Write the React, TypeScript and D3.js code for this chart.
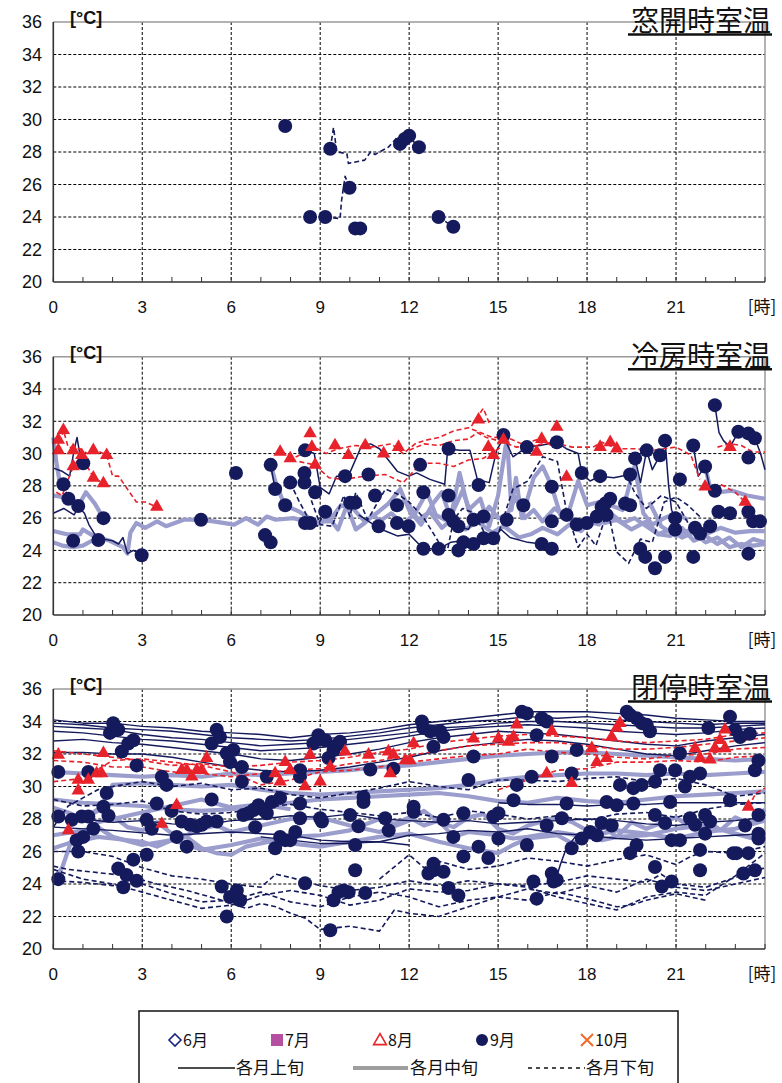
import React from 'react';
import * as d3 from 'd3';

type Flat = number[];

const hourTicks = [0, 3, 6, 9, 12, 15, 18, 21];
const minorHours = d3.range(0, 25);
const tempTicks = [20, 22, 24, 26, 28, 30, 32, 34, 36];

// ---------- Panel 1: 窓開時室温 ----------
const p1Late9: Flat[] = [
  [9.34, 28.2, 9.45, 29.5, 9.56, 28.0, 9.9, 27.9, 9.95, 27.3, 10.5, 27.5, 10.7, 28.0, 10.85, 27.85, 11.3, 28.3, 11.6, 28.9, 11.85, 28.8, 12.0, 29.0, 12.3, 28.3],
  [9.17, 24.0, 9.67, 23.9, 9.72, 25.0, 9.84, 26.5, 9.99, 25.8],
  [12.99, 24.0, 13.49, 23.4],
];
const p1Dots9: Flat = [7.82, 29.6, 8.66, 24.0, 9.17, 24.0, 9.34, 28.2, 9.99, 25.8, 10.18, 23.3, 10.35, 23.3, 11.69, 28.5, 11.85, 28.8, 12.0, 29.0, 12.33, 28.3, 12.99, 24.0, 13.49, 23.4];

// ---------- Panel 2: 冷房時室温 ----------
const p2Early9: Flat[] = [
  [0, 29.1, 0.3, 28.9, 0.55, 28.6, 0.7, 30.2, 0.8, 31.0, 0.9, 29.9, 1.0, 29.4],
  [0, 26.3, 0.35, 26.6, 0.7, 26.2, 0.85, 26.7, 1.05, 26.3, 1.2, 25.6, 1.4, 25.0, 1.7, 24.7, 2.0, 24.6, 2.2, 24.4, 2.35, 24.8, 2.5, 23.8, 2.7, 24.0, 3.0, 23.7],
  [8.5, 30.2, 8.8, 30.0, 9.0, 27.9, 9.3, 27.5, 9.55, 28.6, 9.95, 28.6, 10.4, 30.5, 10.7, 30.6, 11.0, 30.3, 11.3, 29.6, 11.6, 28.9, 12.0, 28.6, 12.25, 28.8, 12.7, 28.4, 13.2, 28.1, 13.3, 30.3, 13.7, 30.2, 14.05, 30.2, 14.3, 28.4, 14.7, 28.2, 14.95, 30.2, 15.2, 31.0],
  [15.2, 31.0, 15.5, 29.8, 15.97, 30.4, 16.4, 30.5, 16.98, 30.7, 17.3, 30.3, 17.7, 30.0, 17.82, 28.8, 18.1, 28.3, 18.44, 28.6, 18.9, 28.5, 19.45, 28.7],
  [10.3, 26.2, 10.8, 25.6, 11.2, 25.2, 11.6, 24.9, 12.0, 25.0, 12.48, 24.1, 12.99, 24.1, 13.4, 24.5, 13.8, 24.6, 14.2, 24.4, 14.5, 24.75, 14.84, 24.75, 15.1, 25.3, 15.4, 24.8, 16.0, 24.5, 16.47, 24.4, 16.81, 24.1],
  [22.31, 33.0, 22.45, 31.3, 22.6, 30.8, 22.82, 30.4, 23.1, 31.35, 23.44, 31.25, 23.66, 30.95, 23.85, 30.0, 24.0, 29.0],
  [21.58, 30.5, 21.75, 28.6, 21.98, 29.2, 22.15, 27.8, 22.31, 27.7],
  [20.63, 30.8, 20.75, 28.0, 20.85, 26.5, 20.97, 26.0],
  [19.62, 29.7, 19.8, 28.2, 20.01, 30.2, 20.2, 29.0, 20.46, 29.9],
  [13.33, 26.2, 13.49, 25.8, 13.66, 25.5, 14.0, 25.3, 14.17, 25.9, 14.51, 26.1],
  [7.33, 29.3, 7.48, 27.8],
];
const p2Mid9: Flat[] = [
  [0, 25.2, 0.45, 25.0, 0.9, 25.0, 1.0, 25.3, 1.35, 24.9, 1.9, 24.6, 2.35, 24.2, 2.5, 23.8, 2.6, 25.1, 2.8, 25.7, 3.1, 25.4, 3.5, 25.8, 3.8, 25.5, 4.4, 25.9, 4.9, 25.9, 5.4, 25.8, 6.1, 25.6, 6.5, 26.0, 6.9, 25.6, 7.2, 26.1, 7.5, 25.9, 8.1, 26.0, 8.5, 25.8, 8.9, 25.6, 9.3, 26.0, 9.6, 25.3, 9.9, 26.8, 10.2, 25.3, 10.5, 25.7, 10.8, 26.2, 11.0, 25.8, 11.4, 26.3, 11.8, 25.6, 12.2, 26.3, 12.6, 27.6, 12.9, 26.2, 13.2, 25.9, 13.5, 26.5, 13.8, 27.7, 14.1, 26.2, 14.4, 26.0, 14.7, 26.7, 15.0, 26.0, 15.3, 26.2, 15.6, 27.3, 15.9, 26.0, 16.2, 26.5, 16.5, 25.8, 16.9, 26.6, 17.2, 26.2, 17.6, 25.7, 18.0, 25.8, 18.4, 25.6, 18.8, 26.3, 19.2, 25.7, 19.6, 26.0, 20.0, 25.5, 20.4, 25.0, 20.8, 24.9, 21.2, 25.4, 21.6, 24.6, 22.0, 24.9, 22.4, 24.4, 22.8, 24.8, 23.2, 24.2, 23.6, 24.7, 24.0, 24.5],
  [0, 24.5, 0.3, 24.3, 0.67, 24.2, 1.0, 24.3, 1.3, 24.6, 1.52, 24.65],
  [0, 27.4, 0.34, 27.3, 0.6, 27.2, 0.84, 26.75, 1.1, 27.6, 1.4, 26.9, 1.69, 26.0],
  [0, 31.0, 0.1, 29.5, 0.2, 28.4, 0.34, 28.1],
  [7.33, 29.3, 7.5, 28.2, 7.8, 26.8, 8.3, 26.4, 8.8, 25.8, 9.3, 25.8, 9.7, 26.8, 10.1, 26.6, 10.5, 25.8, 10.9, 26.3, 11.3, 26.9, 11.7, 27.8, 12.0, 26.5, 12.4, 25.6, 12.8, 26.9, 13.1, 27.6, 13.4, 26.0, 13.7, 28.8, 14.0, 26.5, 14.4, 27.2, 14.7, 25.5, 15.0, 27.4, 15.3, 31.0, 15.45, 26.5, 15.6, 28.5, 15.8, 26.0, 16.2, 28.5, 16.5, 29.2, 16.8, 28.0, 17.1, 26.2, 17.4, 26.5, 17.7, 28.3, 18.0, 26.8, 18.4, 27.0, 18.8, 26.8, 19.2, 26.5, 19.6, 29.2, 19.9, 26.3, 20.2, 25.6, 20.6, 26.0, 21.0, 26.3, 21.4, 25.9],
  [12.0, 26.8, 12.3, 25.9, 12.7, 26.4, 13.1, 25.4, 13.5, 26.0, 13.9, 25.3, 14.3, 25.8, 14.8, 25.1, 15.2, 25.5, 15.7, 24.8, 16.1, 25.0, 16.5, 25.4, 17.0, 25.0, 17.4, 25.6, 17.8, 25.2, 18.2, 26.0, 18.6, 25.7, 19.0, 25.9, 19.5, 25.3, 20.0, 25.8, 20.4, 25.0, 20.8, 25.3, 21.2, 24.8, 21.6, 25.1, 22.0, 24.5, 22.4, 24.8, 22.8, 24.2, 23.2, 24.4, 23.6, 24.3, 24.0, 24.4],
  [20.1, 27.0, 20.5, 25.5, 21.0, 24.9, 21.5, 25.3, 22.0, 25.0, 22.5, 25.4, 23.0, 25.1, 23.5, 25.2, 24.0, 25.2],
  [21.98, 29.2, 22.15, 27.9, 22.4, 27.6, 22.9, 27.7, 23.4, 27.4, 24.0, 27.2],
];
const p2Late9: Flat[] = [
  [8.7, 27.1, 9.0, 25.6, 9.4, 25.5, 9.8, 27.4, 10.0, 26.1, 10.2, 27.6, 10.6, 25.9, 11.2, 27.8, 11.6, 27.5, 12.0, 27.0, 12.5, 26.0, 13.0, 24.5, 13.3, 24.1, 13.5, 25.9, 13.8, 26.6, 14.2, 26.3, 14.7, 24.5, 15.0, 25.0, 15.5, 27.8, 16.0, 28.3, 16.5, 29.8, 17.0, 29.5, 17.3, 26.5, 17.7, 24.2, 18.0, 25.0, 18.3, 24.3, 18.7, 26.5, 19.0, 23.9, 19.4, 23.2, 19.8, 24.7, 20.2, 24.5, 20.6, 27.0, 21.0, 27.3, 21.4, 26.8, 21.8, 26.1],
  [19.3, 28.8, 19.6, 27.6, 20.0, 26.6, 20.5, 27.4, 21.0, 27.0, 21.5, 25.4, 22.0, 24.6],
  [0.34, 28.1, 0.51, 27.2],
  [7.99, 28.2, 8.3, 27.0, 8.6, 26.0, 8.9, 25.5, 9.17, 26.4],
];
const p2Late8: Flat[] = [
  [0.17, 30.2, 0.34, 31.45, 0.5, 30.4, 0.9, 30.3, 1.15, 30.0, 1.45, 30.2, 1.8, 29.9, 2.0, 28.6, 2.2, 28.6, 2.8, 27.0, 3.1, 27.0, 3.49, 26.7],
  [0.1, 27.6, 0.3, 27.4, 0.67, 29.2, 0.96, 29.9, 1.35, 28.5, 1.69, 28.15],
  [7.65, 30.1, 8.2, 29.8, 8.8, 30.4, 9.2, 30.0, 9.6, 30.3, 10.2, 30.5, 10.7, 30.4, 11.4, 30.6, 11.8, 30.0, 12.2, 30.6, 12.5, 30.8, 13.0, 31.0, 13.5, 31.4, 14.0, 31.6, 14.4, 31.3, 14.8, 31.0, 15.3, 31.0, 15.8, 30.6, 16.4, 30.9, 17.0, 30.3],
  [8.3, 29.5, 8.8, 29.3, 9.3, 28.5, 9.8, 28.4, 10.5, 28.6, 11.2, 28.7, 11.8, 28.2, 12.4, 29.4, 13.0, 29.4, 13.5, 29.2, 14.0, 29.6, 14.5, 29.7, 15.1, 30.4],
  [12.0, 30.2, 12.5, 30.6, 13.0, 30.5, 13.5, 30.8, 14.0, 30.9, 14.3, 31.3, 14.6, 31.0, 15.2, 30.7, 15.6, 30.4, 16.2, 30.5, 16.8, 30.7, 17.5, 30.4, 18.2, 30.4, 18.5, 30.7, 19.0, 30.3, 19.6, 30.3, 20.2, 30.2, 21.0, 30.4, 21.5, 29.9, 21.8, 28.4],
  [21.98, 27.95, 22.5, 28.1, 23.0, 27.6, 23.33, 27.0],
  [22.4, 30.4, 22.82, 30.6, 23.2, 30.5, 23.6, 30.1, 24.0, 30.1],
  [14.1, 31.7, 14.5, 32.8, 14.7, 31.9],
];
const p2Dots9: Flat = [
  0.34, 28.1, 0.51, 27.2, 0.84, 26.75, 1.01, 29.4, 0.67, 24.6, 1.52, 24.65, 1.69, 26.0, 2.98, 23.7, 4.98, 25.9, 6.16, 28.8,
  7.14, 24.95, 7.33, 24.5, 7.33, 29.3, 7.48, 27.8, 7.82, 26.8, 7.99, 28.2, 8.49, 30.2, 8.47, 28.8, 8.47, 28.2, 8.49, 25.7,
  8.66, 25.7, 8.83, 27.6, 9.17, 26.4, 9.84, 28.6, 10.01, 26.95, 10.18, 26.95, 10.63, 28.7, 10.85, 27.4, 10.97, 25.5, 11.59, 26.8,
  11.59, 25.7, 11.98, 25.5, 12.37, 29.3, 12.48, 27.6, 12.48, 24.1, 12.99, 24.1, 13.33, 30.3, 13.33, 27.4, 13.33, 26.2, 13.49, 25.8,
  13.66, 25.5, 13.66, 24.0, 13.83, 24.5, 14.17, 24.4, 14.17, 25.9, 14.34, 28.05, 14.51, 26.1, 14.51, 24.75, 14.84, 24.75, 15.18, 31.15,
  15.29, 25.9, 15.85, 26.8, 15.97, 30.4, 16.47, 24.4, 16.81, 27.95, 16.81, 25.8, 16.81, 24.1, 16.98, 30.7, 17.31, 26.2, 17.65, 25.6,
  17.82, 28.8, 17.99, 25.7, 18.33, 26.1, 18.44, 28.6, 18.49, 26.7, 18.61, 26.9, 18.66, 26.2, 18.78, 27.2, 19.28, 26.9, 19.45, 26.8,
  19.45, 28.7, 19.62, 29.7, 19.79, 24.1, 19.96, 23.6, 20.01, 30.2, 20.29, 22.9, 20.46, 29.9, 20.63, 30.8, 20.63, 23.6, 20.97, 26.0,
  20.97, 25.3, 21.13, 28.4, 21.58, 30.5, 21.58, 23.6, 21.64, 25.4, 21.81, 25.05, 21.98, 29.2, 22.15, 25.5, 22.31, 33.0, 22.31, 27.7,
  22.43, 26.4, 22.82, 26.3, 23.1, 31.35, 23.44, 31.25, 23.44, 29.75, 23.44, 26.4, 23.44, 23.8, 23.66, 30.95, 23.6, 25.8, 23.83, 25.8,
];
const p2Tri8: Flat = [
  0.17, 30.85, 0.17, 30.2, 0.34, 31.45, 0.67, 30.2, 0.67, 29.2, 0.96, 29.9, 1.35, 30.2, 1.35, 28.5, 1.69, 28.15, 1.8, 29.9,
  3.49, 26.7, 7.65, 30.1, 7.99, 29.7, 8.66, 31.25, 8.72, 30.4, 8.83, 29.3, 9.5, 30.5, 9.95, 29.9, 10.52, 30.5, 11.14, 30.0,
  11.64, 30.4, 14.34, 32.1, 14.67, 30.4, 14.84, 29.9, 15.18, 30.85, 16.3, 30.1, 16.47, 30.9, 16.98, 31.65, 17.31, 28.55, 18.44, 30.4,
  18.78, 30.7, 19.0, 30.3, 21.98, 27.95, 22.82, 30.4, 23.33, 27.0,
];

// ---------- Panel 3: 閉停時室温 ----------
const p3Early9: Flat[] = [
  [0, 34.1, 1, 33.9, 2, 33.9, 3, 33.7, 4, 33.6, 5, 33.4, 6, 33.3, 7, 33.2, 8, 33.0, 9, 33.2, 10, 33.3, 11, 33.5, 12, 33.8, 13, 34.0, 14, 34.2, 15, 34.4, 16, 34.6, 17, 34.6, 18, 34.6, 19, 34.5, 20, 34.4, 21, 34.2, 22, 34.1, 23, 34.0, 24, 34.0],
  [0, 33.9, 1, 33.8, 2, 33.6, 3, 33.5, 4, 33.4, 5, 33.2, 6, 33.0, 7, 32.9, 8, 32.8, 9, 32.9, 10, 33.1, 11, 33.3, 12, 33.6, 13, 33.8, 14, 34.0, 15, 34.1, 16, 34.3, 17, 34.2, 18, 34.3, 19, 34.1, 20, 34.0, 21, 33.9, 22, 33.8, 23, 33.9, 24, 33.9],
  [0, 33.7, 1, 33.6, 2, 33.5, 3, 33.2, 4, 33.0, 5, 32.9, 6, 32.7, 7, 32.5, 8, 32.6, 9, 32.7, 10, 32.9, 11, 33.1, 12, 33.3, 13, 33.6, 14, 33.7, 15, 33.9, 16, 34.0, 17, 34.0, 18, 33.9, 19, 33.8, 20, 33.7, 21, 33.6, 22, 33.6, 23, 33.7, 24, 33.8],
  [0, 33.4, 1, 33.3, 2, 33.1, 3, 32.9, 4, 32.8, 5, 32.6, 6, 32.4, 7, 32.2, 8, 32.3, 9, 32.4, 10, 32.6, 11, 32.8, 12, 33.1, 13, 33.4, 14, 33.6, 15, 33.7, 16, 33.8, 17, 33.7, 18, 33.6, 19, 33.4, 20, 33.3, 21, 33.2, 22, 33.3, 23, 33.5, 24, 33.6],
  [0, 32.8, 1, 32.9, 2, 32.7, 3, 32.6, 4, 32.4, 5, 32.2, 6, 32.0, 7, 31.7, 8, 31.6, 9, 31.8, 10, 32.0, 11, 32.3, 12, 32.7, 13, 33.0, 14, 33.2, 15, 33.4, 16, 33.3, 17, 33.2, 18, 33.0, 19, 32.8, 20, 32.6, 21, 32.5, 22, 32.8, 23, 33.0, 24, 33.2],
  [0, 32.1, 1, 32.1, 2, 32.0, 3, 32.0, 4, 31.8, 5, 31.5, 6, 31.2, 7, 31.0, 8, 30.9, 9, 31.0, 10, 31.2, 11, 31.5, 12, 31.8, 13, 32.2, 14, 32.5, 15, 32.7, 16, 32.9, 17, 32.8, 18, 32.6, 19, 32.3, 20, 32.0, 21, 31.9, 22, 32.2, 23, 32.5, 24, 32.7],
  [0, 28.1, 1, 28.0, 2, 27.8, 3, 27.9, 4, 27.7, 5, 27.6, 6, 27.9, 7, 28.0, 8, 28.2, 9, 28.1, 10, 28.3, 11, 28.0, 12, 27.9, 13, 27.8, 14, 27.9, 15, 27.7, 16, 27.8, 17, 27.9, 18, 28.0, 19, 27.9, 20, 27.7, 21, 27.6, 22, 27.8, 23, 27.9, 24, 28.1],
  [15, 29.0, 16, 28.9, 17, 28.9, 18, 28.8, 19, 28.9, 20, 28.9, 21, 29.0, 22, 29.0, 23, 29.0, 24, 29.0],
  [0, 27.5, 2, 27.3, 4, 27.0, 6, 27.2, 8, 27.0, 9, 26.7, 10, 26.6, 11, 26.6, 12, 27.0, 13, 27.1, 14, 27.3, 15, 27.2, 16, 27.4, 17, 27.1, 18, 27.0, 19, 26.8, 20, 26.7, 21, 26.8, 22, 26.9, 23, 27.0, 24, 27.1],
  [7, 26.9, 8, 26.7, 9, 26.5, 10, 26.5, 11, 26.6, 12, 26.4],
  [16.9, 24.0, 17.1, 25.2, 17.3, 26.2, 17.6, 26.9],
];
const p3Mid9: Flat[] = [
  [0, 30.9, 1, 30.8, 2, 30.7, 3, 30.6, 4, 30.7, 5, 30.6, 6, 30.8, 7, 30.7, 8, 30.8, 9, 30.9, 10, 31.0, 11, 31.2, 12, 31.3, 13, 31.5, 14, 31.7, 15, 31.9, 16, 32.0, 17, 32.1, 18, 32.1, 19, 32.0, 20, 31.9, 21, 31.8, 22, 31.7, 23, 31.6, 24, 31.7],
  [1, 28.0, 1.5, 28.5, 2, 30.1, 3, 30.2, 4, 30.1, 5, 30.0, 6, 30.1, 7, 29.8, 8, 29.6, 9, 29.5, 10, 29.6, 11, 29.7, 12, 29.8, 13, 29.9, 14, 30.1, 15, 30.4, 16, 30.6, 17, 30.7, 18, 30.8, 19, 30.8, 20, 30.7, 21, 30.8, 22, 30.7, 23, 30.8, 24, 30.9],
  [0, 29.2, 1, 29.0, 2, 28.9, 3, 28.8, 4, 28.6, 5, 28.5, 6, 28.6, 7, 28.8, 8, 29.0, 9, 29.2, 10, 29.3, 11, 29.4, 12, 29.5, 13, 29.6, 14, 29.4, 15, 29.1, 16, 29.0, 17, 29.3, 18, 29.1, 19, 29.0, 20, 29.2, 21, 29.4, 22, 29.5, 23, 29.6, 24, 29.7],
  [0, 28.7, 0.5, 28.4, 1, 28.0, 1.5, 28.6, 2, 28.2, 2.5, 27.5, 3, 27.3, 3.5, 27.8, 4, 27.1, 4.5, 27.0, 5, 27.4, 5.5, 27.6, 6, 27.2, 7, 27.6, 8, 28.0, 9, 28.1, 10, 27.6, 11, 27.2, 12, 27.9, 12.5, 28.5, 13, 27.8, 13.5, 27.5, 14, 28.1, 14.5, 28.3, 15, 27.4, 15.5, 27.1, 16, 27.6, 17, 28.1, 17.5, 27.8, 18, 27.3, 18.5, 27.6, 19, 26.9, 19.5, 27.8, 20, 27.4, 21, 28.1, 21.5, 27.5, 22, 28.0, 22.5, 27.3, 23, 28.1, 23.5, 27.7, 24, 28.6],
  [0, 26.2, 0.5, 26.5, 1, 26.7, 1.5, 26.9, 2, 26.8, 3, 26.6, 3.5, 26.3, 4, 26.7, 4.5, 26.9, 5, 26.2, 5.5, 25.9, 6, 25.8, 6.5, 26.3, 7, 26.5, 8, 26.9, 9, 27.0, 10, 27.3, 11, 28.0, 11.5, 27.7, 12, 28.1, 12.5, 27.6, 13, 27.9, 13.5, 26.9, 14, 27.2, 15, 27.0, 15.5, 26.8, 16, 26.9, 17, 27.2, 18, 26.9, 18.5, 26.7, 19, 26.9, 20, 27.0, 21, 27.4, 22, 27.6, 23, 27.1, 24, 26.6],
  [0, 27.0, 1, 27.3, 1.5, 27.5, 2, 26.9, 3, 26.4, 4, 26.7, 5, 26.1, 6, 26.4, 7, 26.8, 8, 26.5, 9, 26.3, 10, 26.6, 11, 26.9, 12, 27.1, 13, 26.6, 14, 26.2, 15, 25.9, 15.5, 26.4, 16, 26.8, 17, 27.0, 17.5, 26.5, 18, 26.9, 19, 27.3, 20, 27.1, 21, 26.8, 22, 27.2, 23, 27.4, 24, 27.9],
  [0, 24.3, 0.3, 25.0, 0.6, 26.6, 1.0, 27.1, 1.5, 27.8, 2.0, 28.0, 3, 28.4, 4, 28.8, 5, 29.2, 6, 28.7, 7, 28.9, 8, 28.6],
];
const p3Late9: Flat[] = [
  [0, 26.0, 1, 26.0, 2, 25.7, 3, 25.0, 4, 24.5, 5, 24.3, 6, 24.0, 7, 23.8, 7.5, 24.6, 8, 24.4, 9, 23.9, 10, 23.6, 11, 23.8, 12, 24.2, 13, 23.9, 14, 24.2, 15, 24.0, 16, 23.9, 17, 24.1, 18, 24.5, 19, 24.3, 20, 24.1, 20.5, 24.6, 21, 24.0, 22, 23.8, 23, 24.4, 24, 25.0],
  [0, 25.1, 0.5, 24.9, 1.5, 24.7, 2.5, 24.5, 3.5, 24.0, 4.5, 23.6, 5.5, 23.1, 6.5, 22.5, 7, 22.8, 7.5, 22.6, 8, 22.2, 8.5, 21.9, 9, 21.2, 10, 21.4, 11, 21.1, 11.5, 22.4, 12, 22.2, 13, 22.0, 14, 22.6, 15, 23.2, 16, 23.0, 17, 23.5, 18, 23.1, 19, 22.6, 19.5, 22.7, 20, 23.0, 21, 23.4, 22, 23.0],
  [0, 24.9, 1, 24.3, 2, 24.0, 3, 23.5, 4, 23.0, 5, 22.5, 6, 22.7, 7, 23.3, 8, 23.6, 9, 23.3, 10, 22.7, 11, 23.0, 12, 23.7, 13, 23.5, 14, 23.6, 15, 24.0, 16, 23.8, 17, 23.2, 18, 22.8, 19, 22.4, 19.5, 22.8, 20, 23.2, 21, 23.5, 22, 23.3, 23, 24.5, 24, 25.9],
  [0, 24.2, 1, 24.1, 2, 23.9, 3, 24.0, 4, 23.4, 5, 22.9, 6, 23.0, 7, 23.5, 8, 22.9, 9, 22.6, 10, 23.2, 11, 23.5, 12, 23.2, 13, 22.6, 14, 23.0, 15, 23.2, 16, 23.7, 17, 23.4, 18, 23.9, 19, 23.5, 20, 24.3, 21, 23.8, 22, 23.6, 23, 24.0, 24, 24.4],
  [11, 24.3, 12, 25.8, 12.5, 25.0, 13, 25.4, 14, 24.9, 15, 25.1, 16, 25.6, 17, 25.4, 18, 25.1, 19, 25.5, 20, 25.8, 21, 25.2, 21.5, 25.7, 22, 26.0, 23, 25.9, 24, 26.3],
  [0, 27.5, 0.5, 28.8, 1, 29.3, 1.5, 29.8, 2, 30.0, 3, 30.3, 4, 30.0, 5, 30.2, 6, 29.8, 7, 29.9, 8, 29.5, 9, 29.3, 10, 29.6, 11, 29.9, 12, 30.3, 13, 30.0, 14, 29.8, 15, 30.4, 16, 30.4, 17, 30.3, 18, 30.5, 19, 30.6, 20, 30.3, 21, 30.5, 22, 30.1, 23, 29.4, 24, 29.6],
  [0, 29.2, 1, 28.8, 2, 28.9, 3, 29.1, 4, 28.5, 5, 28.3, 6, 28.4, 7, 28.7, 8, 28.9, 9, 28.6, 10, 28.4, 11, 28.2, 12, 28.4, 13, 28.1, 14, 28.5, 15, 28.3, 16, 28.0, 17, 28.2, 18, 27.9, 19, 28.3, 20, 28.4, 21, 28.1, 22, 28.6, 23, 28.9, 24, 29.0],
];
const p3Late8: Flat[] = [
  [0, 32.2, 1, 32.0, 2, 31.8, 3, 31.6, 4, 31.3, 5, 31.4, 6, 31.2, 7, 31.3, 8, 31.5, 9, 31.6, 10, 31.8, 11, 32.1, 12, 32.3, 13, 32.7, 14, 32.9, 15, 33.1, 16, 33.2, 17, 33.1, 18, 33.0, 19, 32.8, 20, 32.7, 21, 32.8, 22, 32.9, 23, 33.2, 24, 33.3],
  [0, 31.6, 1, 31.5, 2, 31.2, 3, 31.2, 4, 30.9, 5, 30.8, 6, 30.6, 7, 30.8, 8, 31.0, 9, 31.1, 10, 31.4, 11, 31.6, 12, 31.9, 13, 32.2, 14, 32.5, 15, 32.6, 16, 32.7, 17, 32.7, 18, 32.5, 19, 32.3, 20, 32.3, 21, 32.4, 22, 32.6, 23, 32.8, 24, 33.0],
  [0, 30.3, 1, 30.5, 2, 31.6, 3, 31.7, 4, 31.5, 5, 31.3, 6, 30.9, 7, 30.1, 8, 30.4, 9, 30.9, 10, 31.0, 11, 31.2, 12, 31.5, 13, 31.7, 14, 31.9, 15, 32.0, 16, 32.3, 17, 32.1, 18, 32.0, 19, 31.8, 20, 31.7, 21, 31.9, 22, 32.0, 23, 32.3, 24, 32.4],
  [15, 29.8, 16, 30.4, 17, 31.0, 18, 31.1, 19, 31.5, 20, 31.5, 21, 31.6, 22, 31.5, 23, 31.8, 24, 31.9],
  [23.44, 28.75, 23.7, 29.6, 24, 29.9],
];
const p3Dots9: Flat = [
  0.17, 30.9, 0.17, 28.15, 0.17, 24.3, 0.62, 27.95, 0.79, 26.7, 0.84, 26.0, 1.01, 26.9, 0.96, 28.15, 1.18, 28.15, 1.18, 30.9,
  1.35, 27.4, 1.69, 28.75, 1.8, 29.6, 1.86, 28.2, 1.91, 33.3, 2.02, 33.9, 2.19, 33.5, 2.19, 24.95, 2.31, 32.15, 2.36, 23.8,
  2.47, 24.55, 2.53, 32.65, 2.7, 32.85, 2.7, 25.5, 2.81, 31.3, 2.81, 24.2, 3.15, 25.8, 3.15, 27.95, 3.32, 27.4, 3.49, 28.95,
  3.66, 30.6, 3.82, 30.1, 3.99, 28.5, 4.16, 26.9, 4.33, 27.85, 4.5, 26.3, 4.61, 27.65, 4.84, 27.55, 5.01, 27.65, 5.17, 27.85,
  5.34, 29.2, 5.34, 32.65, 5.51, 33.5, 5.51, 27.85, 5.62, 33.05, 5.68, 23.85, 5.85, 32.05, 5.85, 22.0, 5.96, 31.5, 5.96, 23.2,
  6.07, 32.25, 6.19, 23.6, 6.3, 23.0, 6.36, 31.2, 6.36, 30.3, 6.41, 28.25, 6.58, 28.35, 6.75, 28.55, 6.81, 27.5, 6.92, 28.85,
  7.09, 28.55, 7.2, 28.35, 7.2, 30.6, 7.37, 29.05, 7.48, 26.2, 7.65, 29.3, 7.65, 26.9, 7.82, 26.7, 7.99, 26.7, 8.16, 27.2,
  8.32, 28.95, 8.32, 28.05, 8.32, 31.0, 8.32, 30.6, 8.49, 24.05, 8.77, 32.65, 8.94, 33.15, 9.0, 28.05, 9.06, 27.85, 9.17, 32.85,
  9.28, 31.75, 9.34, 21.15, 9.45, 23.0, 9.62, 23.5, 9.79, 23.6, 9.96, 23.5, 9.45, 32.25, 9.56, 32.55, 9.67, 32.75, 10.01, 28.25,
  10.18, 26.4, 10.29, 27.55, 10.18, 24.85, 10.52, 23.45, 10.46, 29.35, 10.46, 29.05, 10.69, 31.05, 11.19, 28.05, 11.31, 27.3, 11.47, 31.1,
  12.15, 28.75, 12.15, 28.45, 12.43, 34.0, 12.48, 33.6, 12.71, 33.4, 12.82, 24.85, 12.82, 25.25, 13.04, 33.4, 13.16, 33.05, 12.82, 32.45,
  13.16, 24.75, 13.33, 23.75, 13.66, 23.3, 12.65, 24.65, 13.16, 27.95, 13.49, 26.9, 13.83, 28.35, 13.83, 25.7, 14.0, 30.4, 14.17, 31.85,
  14.34, 26.3, 14.67, 25.6, 14.84, 28.15, 15.01, 26.8, 15.01, 28.35, 15.52, 29.15, 15.63, 30.1, 15.8, 34.6, 15.97, 34.5, 15.97, 26.4,
  16.13, 30.6, 16.19, 24.15, 16.3, 23.1, 16.3, 33.15, 16.47, 34.2, 16.64, 34.0, 16.64, 27.6, 16.81, 24.65, 16.87, 24.15, 16.98, 24.25,
  16.81, 31.85, 17.15, 28.05, 17.31, 28.95, 17.48, 30.8, 17.48, 26.2, 17.65, 32.25, 17.82, 26.8, 18.1, 27.2, 18.33, 27.0, 18.49, 27.75,
  18.66, 29.05, 18.83, 27.6, 19.0, 28.85, 19.11, 30.1, 19.34, 34.6, 19.45, 34.4, 19.56, 28.95, 19.67, 26.4, 19.45, 25.9, 19.56, 29.9,
  19.67, 34.2, 19.84, 33.9, 19.84, 30.1, 20.01, 33.8, 20.12, 33.4, 20.29, 30.3, 20.29, 28.25, 20.29, 25.05, 20.46, 31.0, 20.52, 23.85,
  20.63, 27.75, 20.8, 29.05, 20.85, 26.7, 20.85, 24.15, 20.97, 31.0, 21.13, 26.7, 21.13, 32.05, 21.3, 30.0, 21.47, 30.6, 21.47, 28.05,
  21.64, 27.65, 21.81, 30.8, 21.81, 26.1, 21.81, 24.85, 21.98, 28.25, 22.09, 33.6, 22.15, 27.85, 21.98, 27.1, 22.82, 34.3, 22.82, 29.15,
  22.93, 25.9, 23.04, 25.9, 22.99, 33.5, 23.16, 33.05, 23.27, 24.65, 23.33, 27.6, 23.44, 25.9, 23.49, 33.25, 23.66, 24.85, 23.66, 31.0,
  23.78, 31.6, 23.78, 28.25, 23.78, 27.1, 23.78, 26.8,
];
const p3Tri8: Flat = [
  0.17, 31.95, 0.84, 30.4, 0.84, 29.75, 1.18, 30.4, 1.46, 30.8, 1.63, 30.8, 1.69, 32.05, 0.51, 27.3, 3.66, 27.7, 4.16, 28.85,
  4.33, 31.0, 4.5, 31.0, 4.67, 30.6, 4.84, 31.0, 5.01, 31.0, 5.17, 31.75, 7.48, 30.8, 7.65, 30.3, 7.82, 31.5, 7.99, 31.0,
  8.49, 30.0, 8.66, 31.95, 9.0, 30.3, 9.34, 31.2, 9.84, 32.15, 10.63, 31.95, 11.3, 32.15, 11.36, 30.8, 11.47, 31.95, 11.87, 31.6,
  12.03, 31.6, 12.15, 32.65, 14.17, 32.95, 15.01, 32.95, 15.35, 32.75, 15.52, 33.05, 15.63, 33.8, 16.64, 30.8, 16.81, 33.4, 17.48, 30.2,
  18.16, 32.35, 18.33, 31.5, 18.66, 31.75, 18.83, 33.05, 19.0, 33.6, 19.11, 33.9, 21.64, 32.35, 21.81, 31.75, 22.15, 31.65, 22.31, 32.35,
  22.48, 32.85, 22.65, 33.5, 22.65, 32.35, 23.44, 28.75,
];

// ---------- legend ----------
const monthLabels = ['6月', '7月', '8月', '9月', '10月'];
const periodLabels = ['各月上旬', '各月中旬', '各月下旬'];

const NAVY = '#141a5c';
const LAV = '#9b9dcd';
const RED = '#e8222b';
const X0 = 53.3;
const X1 = 765;
const NUM_FONT = '"Liberation Sans", Arial, sans-serif';
const JP_FONT = '"Noto Sans CJK JP", "Noto Sans", sans-serif';

const pairs = (f: Flat): [number, number][] => {
  const out: [number, number][] = [];
  for (let i = 0; i + 1 < f.length; i += 2) out.push([f[i], f[i + 1]]);
  return out;
};

type Group = { series: Flat[]; stroke: string; width: number; dash?: string };

function Panel(props: { top: number; bottom: number; title: string; groups: Group[]; dots: Flat; tris: Flat }) {
  const { top, bottom, title, groups, dots, tris } = props;
  const x = d3.scaleLinear().domain([0, 24]).range([X0, X1]);
  const y = d3.scaleLinear().domain([20, 36]).range([bottom, top]);
  const line = d3.line<[number, number]>().x((d) => x(d[0])).y((d) => y(d[1]));
  const tri = d3.symbol().type(d3.symbolTriangle).size(78)() as string;
  return (
    <g>
      {tempTicks.filter((v) => v > 20 && v < 36).map((v) => (
        <line key={'h' + v} x1={X0} x2={X1} y1={y(v)} y2={y(v)} stroke="#000" strokeWidth={1} strokeDasharray="3,2" />
      ))}
      {hourTicks.filter((h) => h > 0).map((h) => (
        <line key={'v' + h} x1={x(h)} x2={x(h)} y1={top} y2={bottom} stroke="#000" strokeWidth={1} strokeDasharray="3,2" />
      ))}
      <line x1={X0} x2={X1} y1={top} y2={top} stroke="#9a9a9a" strokeWidth={1.5} />
      <line x1={X1} x2={X1} y1={top} y2={bottom} stroke="#9a9a9a" strokeWidth={1.5} />
      {groups.map((g, gi) =>
        g.series.map((s, si) => (
          <path key={gi + '-' + si} d={line(pairs(s)) || ''} fill="none" stroke={g.stroke} strokeWidth={g.width}
            strokeDasharray={g.dash} strokeLinejoin="round" />
        ))
      )}
      {pairs(dots).map((p, i) => (
        <circle key={'c' + i} cx={x(p[0])} cy={y(p[1])} r={7} fill={NAVY} />
      ))}
      {pairs(tris).map((p, i) => (
        <path key={'t' + i} d={tri} transform={`translate(${x(p[0])},${y(p[1])})`} fill={RED} />
      ))}
      <line x1={X0} x2={X0} y1={top} y2={bottom} stroke="#333" strokeWidth={1.6} />
      <line x1={X0} x2={X1} y1={bottom} y2={bottom} stroke="#333" strokeWidth={1.6} />
      {minorHours.map((h) => (
        <line key={'m' + h} x1={x(h)} x2={x(h)} y1={bottom} y2={bottom - 5} stroke="#333" strokeWidth={1} />
      ))}
      {tempTicks.map((v) => (
        <text key={'yl' + v} x={42} y={y(v)} dy="0.35em" textAnchor="end" fontFamily={NUM_FONT} fontSize={18} fill="#111">
          {v}
        </text>
      ))}
      {hourTicks.map((h) => (
        <text key={'xl' + h} x={x(h)} y={bottom + 25} dy="0.35em" textAnchor="middle" fontFamily={NUM_FONT} fontSize={17} fill="#111">
          {h}
        </text>
      ))}
      <text x={762} y={bottom + 25} dy="0.35em" textAnchor="middle" fontFamily={JP_FONT} fontSize={17} fill="#111">[時]</text>
      <text x={70} y={top + 2} fontFamily={NUM_FONT} fontSize={18} fontWeight="bold" fill="#111">[°C]</text>
      <text x={771} y={top + 9} textAnchor="end" fontFamily={JP_FONT} fontSize={28} fill="#111">{title}</text>
      <line x1={628} x2={772} y1={top + 12.5} y2={top + 12.5} stroke="#111" strokeWidth={2.5} />
    </g>
  );
}

function Legend() {
  const rowY = 1040;
  const row2 = 1068;
  const mx = [175, 277, 380, 482, 587];
  const tri = d3.symbol().type(d3.symbolTriangle).size(70)() as string;
  return (
    <g>
      <rect x={139} y={1011} width={539} height={90} fill="white" stroke="#111" strokeWidth={1.5} />
      <path d={`M${mx[0]},${rowY - 6} L${mx[0] + 6},${rowY} L${mx[0]},${rowY + 6} L${mx[0] - 6},${rowY} Z`} fill="none" stroke="#1a237e" strokeWidth={1.6} />
      <rect x={mx[1] - 6} y={rowY - 6} width={12} height={12} fill="#b54fa2" />
      <path d={tri} transform={`translate(${mx[2]},${rowY + 1})`} fill="none" stroke={RED} strokeWidth={1.6} />
      <circle cx={mx[3]} cy={rowY} r={6} fill={NAVY} />
      <path d={`M${mx[4] - 6},${rowY - 6} L${mx[4] + 6},${rowY + 6} M${mx[4] + 6},${rowY - 6} L${mx[4] - 6},${rowY + 6}`} stroke="#f26a2a" strokeWidth={2} />
      {monthLabels.map((m, i) => (
        <text key={m} x={mx[i] + 8} y={rowY} dy="0.35em" fontFamily={JP_FONT} fontSize={16} fill="#111">{m}</text>
      ))}
      <line x1={178} x2={235} y1={row2} y2={row2} stroke="#111" strokeWidth={1.4} />
      <line x1={353} x2={408} y1={row2} y2={row2} stroke="#9e9e9e" strokeWidth={4} />
      <line x1={528} x2={585} y1={row2} y2={row2} stroke="#111" strokeWidth={1.4} strokeDasharray="4,4" />
      {periodLabels.map((p, i) => (
        <text key={p} x={[236, 410, 586][i]} y={row2} dy="0.35em" fontFamily={JP_FONT} fontSize={17} fill="#111">{p}</text>
      ))}
    </g>
  );
}

export default function App() {
  const late = (s: Flat[], c: string) => ({ series: s, stroke: c, width: 1.6, dash: '5,3' });
  return (
    <svg width={782} height={1083} style={{ position: 'absolute', left: 0, top: 0, background: 'white' }}>
      <rect width={782} height={1083} fill="white" />
      <Panel top={22} bottom={282} title="窓開時室温"
        groups={[late(p1Late9, NAVY)]} dots={p1Dots9} tris={[]} />
      <Panel top={356.7} bottom={615} title="冷房時室温"
        groups={[
          { series: p2Mid9, stroke: LAV, width: 4.2 },
          late(p2Late9, NAVY),
          { series: p2Early9, stroke: NAVY, width: 1.5 },
          late(p2Late8, RED),
        ]}
        dots={p2Dots9} tris={p2Tri8} />
      <Panel top={689} bottom={949} title="閉停時室温"
        groups={[
          { series: p3Mid9, stroke: LAV, width: 4.2 },
          late(p3Late9, NAVY),
          { series: p3Early9, stroke: NAVY, width: 1.5 },
          late(p3Late8, RED),
        ]}
        dots={p3Dots9} tris={p3Tri8} />
      <Legend />
    </svg>
  );
}
